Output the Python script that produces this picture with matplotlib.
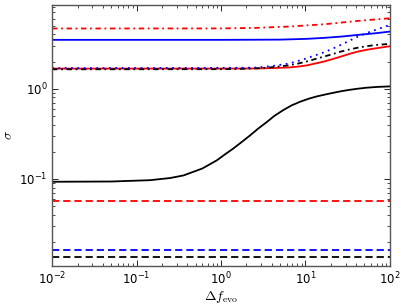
import matplotlib
matplotlib.use("Agg")
import matplotlib.pyplot as plt

plt.rcParams['mathtext.fontset'] = 'cm'
plt.rcParams['font.family'] = ['DejaVu Sans']

# --- data ---
x_black_solid = [0.01, 0.05, 0.144, 0.25, 0.36, 0.6, 0.89, 1.1, 1.4, 1.75, 2.2, 2.75, 3.47, 4.3, 5.46,
                 6.8, 8.6, 11, 13.6, 17, 21.4, 27, 33.6, 42, 53, 70, 100]
y_black_solid = [0.0927, 0.0933, 0.0965, 0.102, 0.109, 0.13, 0.16, 0.185, 0.217, 0.255, 0.302, 0.36, 0.425,
                 0.50, 0.578, 0.65, 0.715, 0.775, 0.82, 0.86, 0.90, 0.94, 0.972, 1.0, 1.025, 1.045, 1.06]

x_red_solid = [0.01, 1, 2.52, 4, 6.47, 8.3, 10.3, 13, 16.6, 21, 26.3, 33, 41.8, 53, 67.7, 100]
y_red_solid = [1.67, 1.67, 1.675, 1.69, 1.72, 1.76, 1.81, 1.90, 2.00, 2.13, 2.27, 2.43, 2.58, 2.70, 2.80, 2.96]

x_black_dashdot = [0.01, 1, 2.0, 3.0, 4, 5.1, 6.47, 8.2, 10.3, 13, 16.6, 21, 26.3, 33, 41.8, 53, 67.7, 100]
y_black_dashdot = [1.64, 1.645, 1.665, 1.69, 1.73, 1.77, 1.82, 1.90, 2.00, 2.13, 2.27, 2.42, 2.58, 2.72, 2.85, 2.96, 3.05, 3.14]

x_blue_dotted = [0.01, 1, 2.52, 4, 5.5, 6.47, 8.2, 10.3, 13, 16.6, 21, 26.3, 33, 41.8, 53, 67.7, 100]
y_blue_dotted = [1.69, 1.70, 1.71, 1.78, 1.86, 1.91, 2.03, 2.17, 2.34, 2.53, 2.78, 3.06, 3.40, 3.78, 4.14, 4.49, 5.10]

x_blue_solid = [0.01, 1, 5, 10.3, 16.6, 26.3, 41.8, 67.7, 100]
y_blue_solid = [3.48, 3.48, 3.50, 3.57, 3.66, 3.78, 3.95, 4.12, 4.30]

x_red_dashdot = [0.01, 1, 2.52, 6.47, 16.6, 41.8, 100]
y_red_dashdot = [4.65, 4.66, 4.72, 4.89, 5.18, 5.65, 6.04]

x_flat = [0.01, 100]
y_red_dashed = [0.056, 0.056]
y_blue_dashed = [0.01626, 0.01626]
y_black_dashed = [0.0136, 0.0136]

xlim = (1e-2, 1e2)
ylim = (0.0108, 8.5)

fig = plt.figure(figsize=(4.07, 3.06), dpi=100)
ax = fig.add_axes([0.128, 0.131, 0.83, 0.853])

lw = 1.3
ax.plot(x_black_solid, y_black_solid, color='k', lw=lw)
ax.plot(x_red_solid, y_red_solid, color='r', lw=lw)
ax.plot(x_blue_solid, y_blue_solid, color='b', lw=lw)
ax.plot(x_black_dashdot, y_black_dashdot, color='k', lw=lw, dashes=(3, 2, 1, 2))
ax.plot(x_red_dashdot, y_red_dashdot, color='r', lw=lw, dashes=(3, 2, 1, 2))
ax.plot(x_blue_dotted, y_blue_dotted, color='b', lw=lw, dashes=(1, 2.5))
ax.plot(x_flat, y_red_dashed, color='r', lw=lw, dashes=(4, 2.2))
ax.plot(x_flat, y_blue_dashed, color='b', lw=lw, dashes=(4, 2.2))
ax.plot(x_flat, y_black_dashed, color='k', lw=lw, dashes=(4, 2.2))

ax.set_xscale('log')
ax.set_yscale('log')
ax.set_xlim(*xlim)
ax.set_ylim(*ylim)

ax.tick_params(which='both', direction='in', top=True, right=True, labelsize=8.5)
ax.tick_params(which='major', length=4, width=0.6)
ax.tick_params(which='minor', length=2, width=0.5)
for s in ax.spines.values():
    s.set_color('#555555')
    s.set_linewidth(1.0)

ax.set_xlabel(r'$\Delta f_{\rm evo}$', fontsize=10, labelpad=1)
ax.set_ylabel(r'$\sigma$', fontsize=10)
ax.yaxis.set_label_coords(-0.11, 0.5)

fig.savefig('out.png', dpi=100)
